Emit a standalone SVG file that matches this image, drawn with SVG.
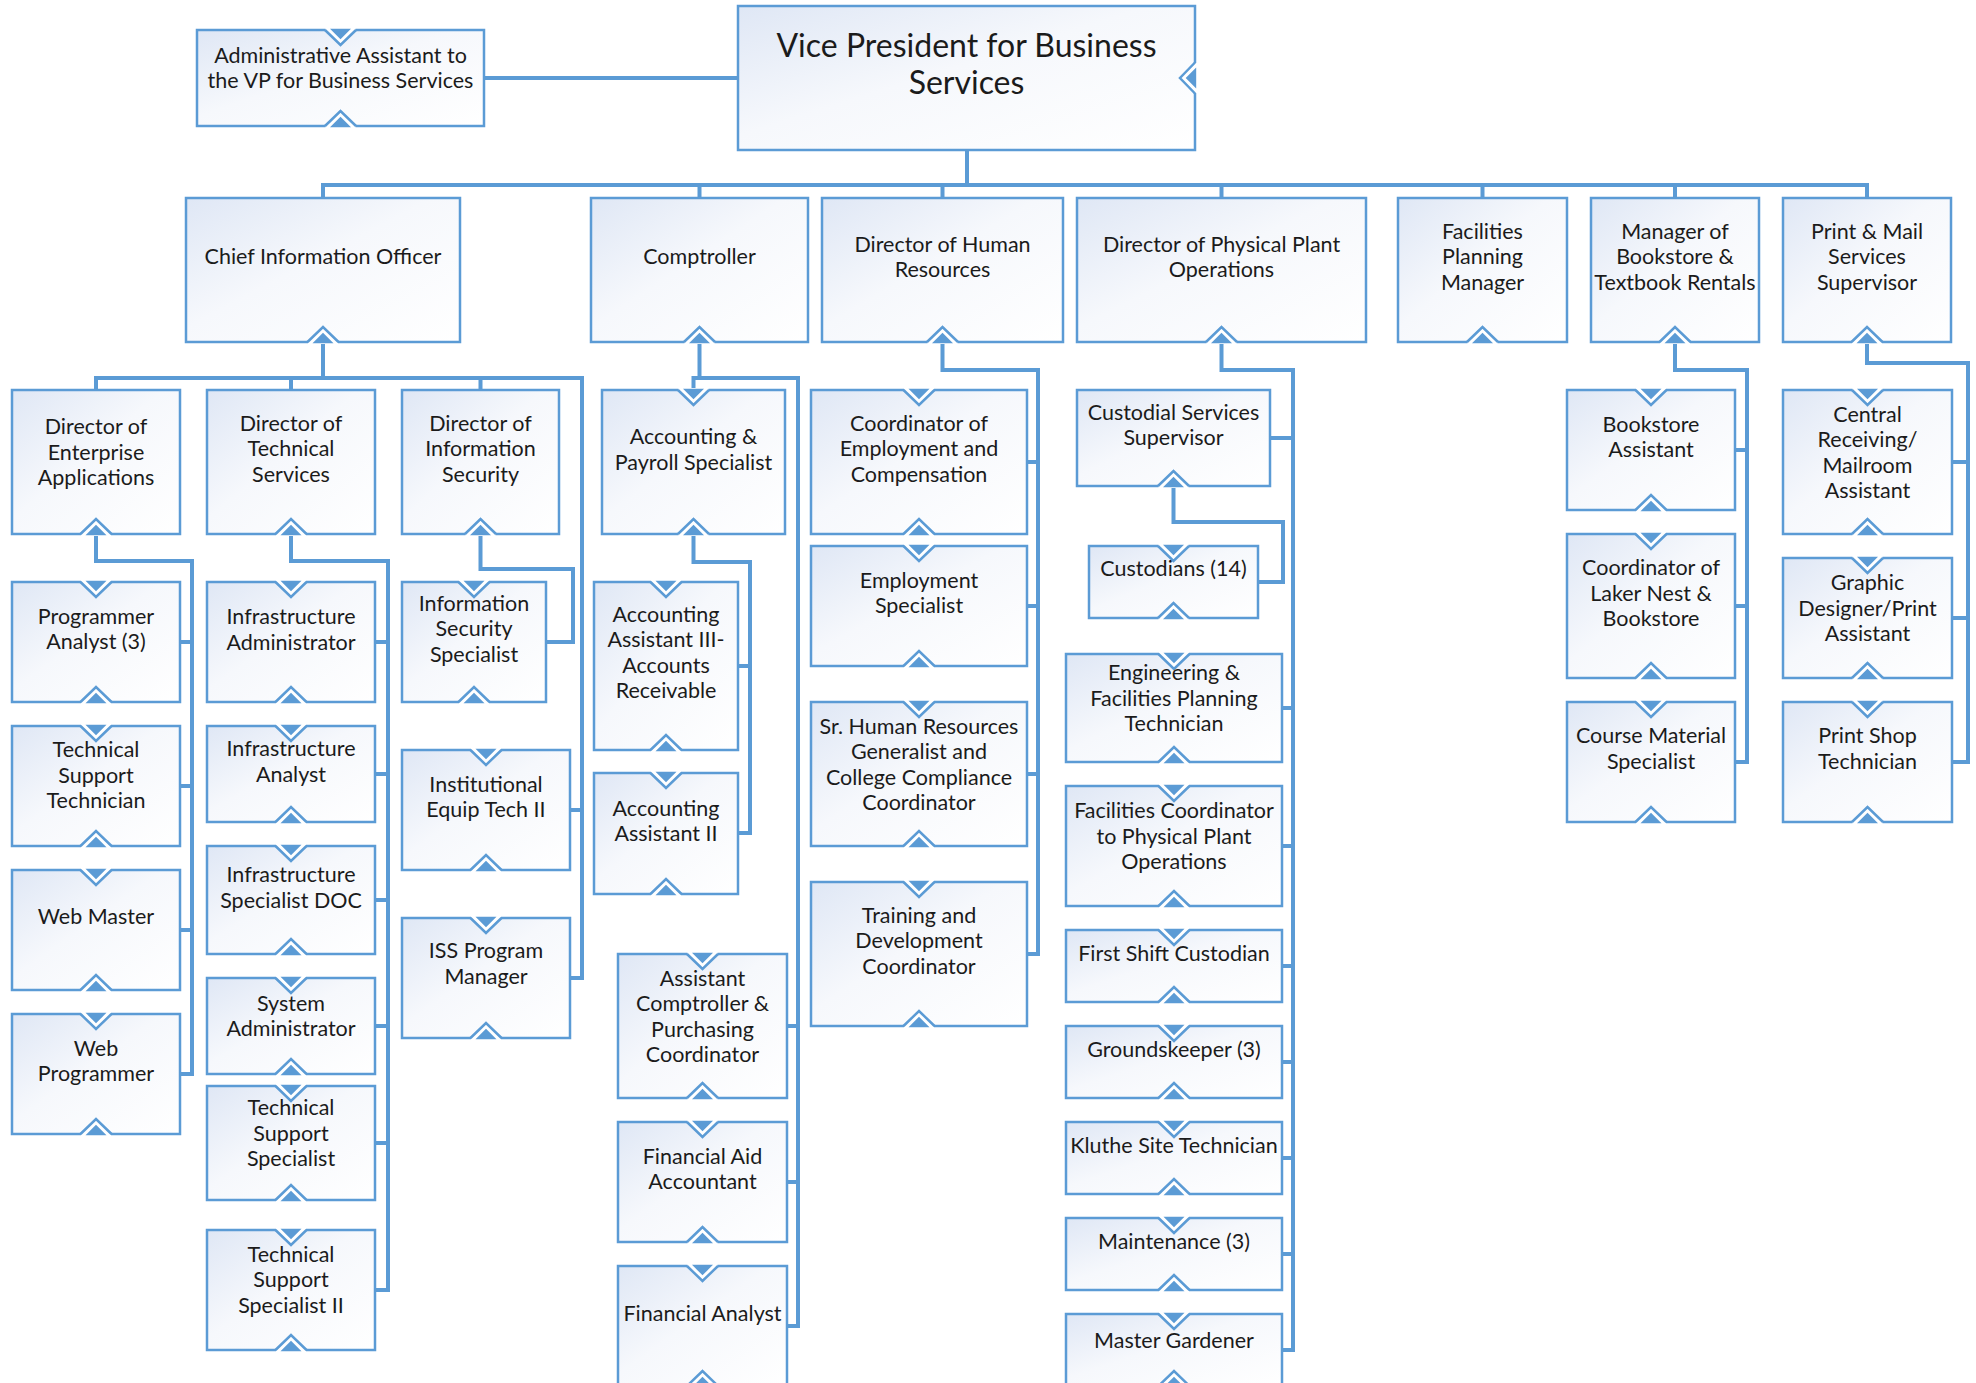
<svg xmlns="http://www.w3.org/2000/svg" xmlns:xlink="http://www.w3.org/1999/xlink" width="1976" height="1383" viewBox="0 0 1976 1383">
  <style>
    .box{fill:url(#shade);stroke:#5b9bd5;stroke-width:2.5}
    .c{fill:none;stroke:#5b9bd5;stroke-width:4;stroke-linejoin:miter;stroke-linecap:butt}
    .nl{fill:none;stroke:#5b9bd5;stroke-width:2.5}
    .nf{fill:#5b9bd5}
    .nw{fill:#ffffff}
    .t{font-family:Lato,"Noto Sans",sans-serif;font-size:21.5px;fill:#1b1b1b;text-anchor:middle}
    .tv{font-size:32px}
  </style>
  <defs>
    <linearGradient id="shade" x1="0" y1="0" x2="1" y2="1">
      <stop offset="0" stop-color="#dfe7f5"/>
      <stop offset="0.45" stop-color="#f6f8fc"/>
      <stop offset="1" stop-color="#ffffff"/>
    </linearGradient>
    <!-- notch on a top edge, pointing down into the box -->
    <g id="nt">
      <path class="nw" d="M-15 -2 H15 V0 L0 15 L-15 0 Z"/>
      <path class="nl" d="M-15.5 0 L0 15 L15.5 0"/>
      <path class="nf" d="M-10.5 -1.2 H10.5 L0 9.3 Z"/>
    </g>
    <!-- notch on a bottom edge, pointing up into the box -->
    <g id="nb">
      <path class="nw" d="M-15 2 H15 V0 L0 -15 L-15 0 Z"/>
      <path class="nl" d="M-15.5 0 L0 -15 L15.5 0"/>
      <path class="nf" d="M-10.5 1.2 H10.5 L0 -9.3 Z"/>
    </g>
  </defs>
  <rect width="1976" height="1383" fill="#ffffff"/>

  <g id="connectors">
    <path class="c" d="M484 78 H738"/>
    <path class="c" d="M967 150 V185"/>
    <path class="c" d="M323 198 V185 H1867 V198 M699.5 185 V198 M942.5 185 V198 M1221.5 185 V198 M1482.5 185 V198 M1675 185 V198"/>
    <!-- Chief Information Officer -->
    <path class="c" d="M323 342 V378 M96 390 V378 H582 V978 H570 M291 378 V390 M480.5 378 V390 M570 810 H582"/>
    <path class="c" d="M96 534 V561 H192 V1074 H180 M180 642 H192 M180 786 H192 M180 930 H192"/>
    <path class="c" d="M291 534 V561 H388 V1290 H375 M375 642 H388 M375 774 H388 M375 900 H388 M375 1026 H388 M375 1143 H388"/>
    <path class="c" d="M480.5 534 V569 H573 V642 H546"/>
    <!-- Comptroller -->
    <path class="c" d="M699.5 342 V378 M693.5 390 V378 H798 V1326 H787 M787 1026 H798 M787 1182 H798"/>
    <path class="c" d="M693.5 534 V562 H750 V833 H738 M738 666 H750"/>
    <!-- Human Resources -->
    <path class="c" d="M942.5 342 V370 H1038 V954 H1027 M1027 462 H1038 M1027 606 H1038 M1027 774 H1038"/>
    <!-- Physical Plant -->
    <path class="c" d="M1221.5 342 V370 H1293 V1350 H1282 M1270 438 H1293 M1282 708 H1293 M1282 846 H1293 M1282 966 H1293 M1282 1062 H1293 M1282 1158 H1293 M1282 1254 H1293"/>
    <path class="c" d="M1173.5 486 V522 H1283 V582 H1258"/>
    <!-- Bookstore -->
    <path class="c" d="M1675 342 V370 H1747 V762 H1735 M1735 450 H1747 M1735 606 H1747"/>
    <!-- Print & Mail -->
    <path class="c" d="M1867 342 V363 H1968 V762 H1952 M1952 462 H1968 M1952 618 H1968"/>
  </g>

  <g id="nodes">
    <g id="n-admin">
      <rect class="box" x="197" y="30" width="287" height="96"/>
      <use href="#nt" x="340.5" y="30"/><use href="#nb" x="340.5" y="126"/>
      <text class="t"><tspan x="340.5" y="63">Administrative Assistant to</tspan><tspan x="340.5" y="88">the VP for Business Services</tspan></text>
    </g>
    <g id="n-vp">
      <rect class="box" x="738" y="6" width="457" height="144"/>
      <use href="#nt" transform="translate(1195 78) rotate(90)"/>
      <text class="t tv"><tspan x="966.5" y="56.5">Vice President for Business</tspan><tspan x="966.5" y="94">Services</tspan></text>
    </g>

    <g id="n-cio">
      <rect class="box" x="186" y="198" width="274" height="144"/>
      <use href="#nb" x="323" y="342"/>
      <text class="t" x="323" y="263.5">Chief Information Officer</text>
    </g>
    <g id="n-comptroller">
      <rect class="box" x="591" y="198" width="217" height="144"/>
      <use href="#nb" x="699.5" y="342"/>
      <text class="t" x="699.5" y="263.5">Comptroller</text>
    </g>
    <g id="n-dhr">
      <rect class="box" x="822" y="198" width="241" height="144"/>
      <use href="#nb" x="942.5" y="342"/>
      <text class="t"><tspan x="942.5" y="251.5">Director of Human</tspan><tspan x="942.5" y="277">Resources</tspan></text>
    </g>
    <g id="n-dpp">
      <rect class="box" x="1077" y="198" width="289" height="144"/>
      <use href="#nb" x="1221.5" y="342"/>
      <text class="t"><tspan x="1221.5" y="251.5">Director of Physical Plant</tspan><tspan x="1221.5" y="277">Operations</tspan></text>
    </g>
    <g id="n-fpm">
      <rect class="box" x="1398" y="198" width="169" height="144"/>
      <use href="#nb" x="1482.5" y="342"/>
      <text class="t"><tspan x="1482.5" y="238.5">Facilities</tspan><tspan x="1482.5" y="264">Planning</tspan><tspan x="1482.5" y="289.5">Manager</tspan></text>
    </g>
    <g id="n-mbook">
      <rect class="box" x="1591" y="198" width="168" height="144"/>
      <use href="#nb" x="1675" y="342"/>
      <text class="t"><tspan x="1675" y="238.5">Manager of</tspan><tspan x="1675" y="264">Bookstore &amp;</tspan><tspan x="1675" y="289.5">Textbook Rentals</tspan></text>
    </g>
    <g id="n-pms">
      <rect class="box" x="1783" y="198" width="168" height="144"/>
      <use href="#nb" x="1867" y="342"/>
      <text class="t"><tspan x="1867" y="238.5">Print &amp; Mail</tspan><tspan x="1867" y="264">Services</tspan><tspan x="1867" y="289.5">Supervisor</tspan></text>
    </g>

    <g id="n-dea">
      <rect class="box" x="12" y="390" width="168" height="144"/>
      <use href="#nb" x="96" y="534"/>
      <text class="t"><tspan x="96" y="434">Director of</tspan><tspan x="96" y="459.5">Enterprise</tspan><tspan x="96" y="485">Applications</tspan></text>
    </g>
    <g id="n-dts">
      <rect class="box" x="207" y="390" width="168" height="144"/>
      <use href="#nb" x="291" y="534"/>
      <text class="t"><tspan x="291" y="430.5">Director of</tspan><tspan x="291" y="456">Technical</tspan><tspan x="291" y="481.5">Services</tspan></text>
    </g>
    <g id="n-dis">
      <rect class="box" x="402" y="390" width="157" height="144"/>
      <use href="#nb" x="480.5" y="534"/>
      <text class="t"><tspan x="480.5" y="430.5">Director of</tspan><tspan x="480.5" y="456">Information</tspan><tspan x="480.5" y="481.5">Security</tspan></text>
    </g>

    <g id="n-pa3">
      <rect class="box" x="12" y="582" width="168" height="120"/>
      <use href="#nt" x="96" y="582"/><use href="#nb" x="96" y="702"/>
      <text class="t"><tspan x="96" y="623.5">Programmer</tspan><tspan x="96" y="649">Analyst (3)</tspan></text>
    </g>
    <g id="n-tst">
      <rect class="box" x="12" y="726" width="168" height="120"/>
      <use href="#nt" x="96" y="726"/><use href="#nb" x="96" y="846"/>
      <text class="t"><tspan x="96" y="757">Technical</tspan><tspan x="96" y="782.5">Support</tspan><tspan x="96" y="808">Technician</tspan></text>
    </g>
    <g id="n-wm">
      <rect class="box" x="12" y="870" width="168" height="120"/>
      <use href="#nt" x="96" y="870"/><use href="#nb" x="96" y="990"/>
      <text class="t" x="96" y="924">Web Master</text>
    </g>
    <g id="n-wp">
      <rect class="box" x="12" y="1014" width="168" height="120"/>
      <use href="#nt" x="96" y="1014"/><use href="#nb" x="96" y="1134"/>
      <text class="t"><tspan x="96" y="1055.5">Web</tspan><tspan x="96" y="1081">Programmer</tspan></text>
    </g>

    <g id="n-ia">
      <rect class="box" x="207" y="582" width="168" height="120"/>
      <use href="#nt" x="291" y="582"/><use href="#nb" x="291" y="702"/>
      <text class="t"><tspan x="291" y="624">Infrastructure</tspan><tspan x="291" y="649.5">Administrator</tspan></text>
    </g>
    <g id="n-ian">
      <rect class="box" x="207" y="726" width="168" height="96"/>
      <use href="#nt" x="291" y="726"/><use href="#nb" x="291" y="822"/>
      <text class="t"><tspan x="291" y="756">Infrastructure</tspan><tspan x="291" y="781.5">Analyst</tspan></text>
    </g>
    <g id="n-isd">
      <rect class="box" x="207" y="846" width="168" height="108"/>
      <use href="#nt" x="291" y="846"/><use href="#nb" x="291" y="954"/>
      <text class="t"><tspan x="291" y="882">Infrastructure</tspan><tspan x="291" y="907.5">Specialist DOC</tspan></text>
    </g>
    <g id="n-sa">
      <rect class="box" x="207" y="978" width="168" height="96"/>
      <use href="#nt" x="291" y="978"/><use href="#nb" x="291" y="1074"/>
      <text class="t"><tspan x="291" y="1010.5">System</tspan><tspan x="291" y="1036">Administrator</tspan></text>
    </g>
    <g id="n-tss">
      <rect class="box" x="207" y="1086" width="168" height="114"/>
      <use href="#nt" x="291" y="1086"/><use href="#nb" x="291" y="1200"/>
      <text class="t"><tspan x="291" y="1115">Technical</tspan><tspan x="291" y="1140.5">Support</tspan><tspan x="291" y="1166">Specialist</tspan></text>
    </g>
    <g id="n-tss2">
      <rect class="box" x="207" y="1230" width="168" height="120"/>
      <use href="#nt" x="291" y="1230"/><use href="#nb" x="291" y="1350"/>
      <text class="t"><tspan x="291" y="1261.5">Technical</tspan><tspan x="291" y="1287">Support</tspan><tspan x="291" y="1312.5">Specialist II</tspan></text>
    </g>

    <g id="n-iss">
      <rect class="box" x="402" y="582" width="144" height="120"/>
      <use href="#nt" x="474" y="582"/><use href="#nb" x="474" y="702"/>
      <text class="t"><tspan x="474" y="610.5">Information</tspan><tspan x="474" y="636">Security</tspan><tspan x="474" y="661.5">Specialist</tspan></text>
    </g>
    <g id="n-iet2">
      <rect class="box" x="402" y="750" width="168" height="120"/>
      <use href="#nt" x="486" y="750"/><use href="#nb" x="486" y="870"/>
      <text class="t"><tspan x="486" y="791.5">Institutional</tspan><tspan x="486" y="817">Equip Tech II</tspan></text>
    </g>
    <g id="n-isspm">
      <rect class="box" x="402" y="918" width="168" height="120"/>
      <use href="#nt" x="486" y="918"/><use href="#nb" x="486" y="1038"/>
      <text class="t"><tspan x="486" y="958">ISS Program</tspan><tspan x="486" y="983.5">Manager</tspan></text>
    </g>

    <g id="n-aps">
      <rect class="box" x="602" y="390" width="183" height="144"/>
      <use href="#nt" x="693.5" y="390"/><use href="#nb" x="693.5" y="534"/>
      <text class="t"><tspan x="693.5" y="444">Accounting &amp;</tspan><tspan x="693.5" y="469.5">Payroll Specialist</tspan></text>
    </g>
    <g id="n-aa3">
      <rect class="box" x="594" y="582" width="144" height="168"/>
      <use href="#nt" x="666" y="582"/><use href="#nb" x="666" y="750"/>
      <text class="t"><tspan x="666" y="621.5">Accounting</tspan><tspan x="666" y="647">Assistant III-</tspan><tspan x="666" y="672.5">Accounts</tspan><tspan x="666" y="698">Receivable</tspan></text>
    </g>
    <g id="n-aa2">
      <rect class="box" x="594" y="773" width="144" height="121"/>
      <use href="#nt" x="666" y="773"/><use href="#nb" x="666" y="894"/>
      <text class="t"><tspan x="666" y="815.5">Accounting</tspan><tspan x="666" y="841">Assistant II</tspan></text>
    </g>
    <g id="n-acpc">
      <rect class="box" x="618" y="954" width="169" height="144"/>
      <use href="#nt" x="702.5" y="954"/><use href="#nb" x="702.5" y="1098"/>
      <text class="t"><tspan x="702.5" y="985.5">Assistant</tspan><tspan x="702.5" y="1011">Comptroller &amp;</tspan><tspan x="702.5" y="1036.5">Purchasing</tspan><tspan x="702.5" y="1062">Coordinator</tspan></text>
    </g>
    <g id="n-faa">
      <rect class="box" x="618" y="1122" width="169" height="120"/>
      <use href="#nt" x="702.5" y="1122"/><use href="#nb" x="702.5" y="1242"/>
      <text class="t"><tspan x="702.5" y="1163.5">Financial Aid</tspan><tspan x="702.5" y="1189">Accountant</tspan></text>
    </g>
    <g id="n-fa">
      <rect class="box" x="618" y="1266" width="169" height="120"/>
      <use href="#nt" x="702.5" y="1266"/><use href="#nb" x="702.5" y="1386"/>
      <text class="t" x="702.5" y="1320.5">Financial Analyst</text>
    </g>

    <g id="n-cec">
      <rect class="box" x="811" y="390" width="216" height="144"/>
      <use href="#nt" x="919" y="390"/><use href="#nb" x="919" y="534"/>
      <text class="t"><tspan x="919" y="430.5">Coordinator of</tspan><tspan x="919" y="456">Employment and</tspan><tspan x="919" y="481.5">Compensation</tspan></text>
    </g>
    <g id="n-es">
      <rect class="box" x="811" y="546" width="216" height="120"/>
      <use href="#nt" x="919" y="546"/><use href="#nb" x="919" y="666"/>
      <text class="t"><tspan x="919" y="587.5">Employment</tspan><tspan x="919" y="613">Specialist</tspan></text>
    </g>
    <g id="n-srhr">
      <rect class="box" x="811" y="702" width="216" height="144"/>
      <use href="#nt" x="919" y="702"/><use href="#nb" x="919" y="846"/>
      <text class="t"><tspan x="919" y="733.5">Sr. Human Resources</tspan><tspan x="919" y="759">Generalist and</tspan><tspan x="919" y="784.5">College Compliance</tspan><tspan x="919" y="810">Coordinator</tspan></text>
    </g>
    <g id="n-tdc">
      <rect class="box" x="811" y="882" width="216" height="144"/>
      <use href="#nt" x="919" y="882"/><use href="#nb" x="919" y="1026"/>
      <text class="t"><tspan x="919" y="922.5">Training and</tspan><tspan x="919" y="948">Development</tspan><tspan x="919" y="973.5">Coordinator</tspan></text>
    </g>

    <g id="n-css">
      <rect class="box" x="1077" y="390" width="193" height="96"/>
      <use href="#nb" x="1173.5" y="486"/>
      <text class="t"><tspan x="1173.5" y="419.5">Custodial Services</tspan><tspan x="1173.5" y="445">Supervisor</tspan></text>
    </g>
    <g id="n-cust">
      <rect class="box" x="1089" y="546" width="169" height="72"/>
      <use href="#nt" x="1173.5" y="546"/><use href="#nb" x="1173.5" y="618"/>
      <text class="t" x="1173.5" y="576">Custodians (14)</text>
    </g>
    <g id="n-eng">
      <rect class="box" x="1066" y="654" width="216" height="108"/>
      <use href="#nt" x="1174" y="654"/><use href="#nb" x="1174" y="762"/>
      <text class="t"><tspan x="1174" y="680">Engineering &amp;</tspan><tspan x="1174" y="705.5">Facilities Planning</tspan><tspan x="1174" y="731">Technician</tspan></text>
    </g>
    <g id="n-fcpp">
      <rect class="box" x="1066" y="786" width="216" height="120"/>
      <use href="#nt" x="1174" y="786"/><use href="#nb" x="1174" y="906"/>
      <text class="t"><tspan x="1174" y="818">Facilities Coordinator</tspan><tspan x="1174" y="843.5">to Physical Plant</tspan><tspan x="1174" y="869">Operations</tspan></text>
    </g>
    <g id="n-fsc">
      <rect class="box" x="1066" y="930" width="216" height="72"/>
      <use href="#nt" x="1174" y="930"/><use href="#nb" x="1174" y="1002"/>
      <text class="t" x="1174" y="960.5">First Shift Custodian</text>
    </g>
    <g id="n-gk">
      <rect class="box" x="1066" y="1026" width="216" height="72"/>
      <use href="#nt" x="1174" y="1026"/><use href="#nb" x="1174" y="1098"/>
      <text class="t" x="1174" y="1056.5">Groundskeeper (3)</text>
    </g>
    <g id="n-kst">
      <rect class="box" x="1066" y="1122" width="216" height="72"/>
      <use href="#nt" x="1174" y="1122"/><use href="#nb" x="1174" y="1194"/>
      <text class="t" x="1174" y="1152.5">Kluthe Site Technician</text>
    </g>
    <g id="n-mnt">
      <rect class="box" x="1066" y="1218" width="216" height="72"/>
      <use href="#nt" x="1174" y="1218"/><use href="#nb" x="1174" y="1290"/>
      <text class="t" x="1174" y="1249">Maintenance (3)</text>
    </g>
    <g id="n-mg">
      <rect class="box" x="1066" y="1314" width="216" height="72"/>
      <use href="#nt" x="1174" y="1314"/><use href="#nb" x="1174" y="1386"/>
      <text class="t" x="1174" y="1347.5">Master Gardener</text>
    </g>

    <g id="n-ba">
      <rect class="box" x="1567" y="390" width="168" height="120"/>
      <use href="#nt" x="1651" y="390"/><use href="#nb" x="1651" y="510"/>
      <text class="t"><tspan x="1651" y="431.5">Bookstore</tspan><tspan x="1651" y="457">Assistant</tspan></text>
    </g>
    <g id="n-cln">
      <rect class="box" x="1567" y="534" width="168" height="144"/>
      <use href="#nt" x="1651" y="534"/><use href="#nb" x="1651" y="678"/>
      <text class="t"><tspan x="1651" y="575">Coordinator of</tspan><tspan x="1651" y="600.5">Laker Nest &amp;</tspan><tspan x="1651" y="626">Bookstore</tspan></text>
    </g>
    <g id="n-cms">
      <rect class="box" x="1567" y="702" width="168" height="120"/>
      <use href="#nt" x="1651" y="702"/><use href="#nb" x="1651" y="822"/>
      <text class="t"><tspan x="1651" y="743">Course Material</tspan><tspan x="1651" y="768.5">Specialist</tspan></text>
    </g>

    <g id="n-crm">
      <rect class="box" x="1783" y="390" width="169" height="144"/>
      <use href="#nt" x="1867.5" y="390"/><use href="#nb" x="1867.5" y="534"/>
      <text class="t"><tspan x="1867.5" y="421.5">Central</tspan><tspan x="1867.5" y="447">Receiving/</tspan><tspan x="1867.5" y="472.5">Mailroom</tspan><tspan x="1867.5" y="498">Assistant</tspan></text>
    </g>
    <g id="n-gdp">
      <rect class="box" x="1783" y="558" width="169" height="120"/>
      <use href="#nt" x="1867.5" y="558"/><use href="#nb" x="1867.5" y="678"/>
      <text class="t"><tspan x="1867.5" y="590">Graphic</tspan><tspan x="1867.5" y="615.5">Designer/Print</tspan><tspan x="1867.5" y="641">Assistant</tspan></text>
    </g>
    <g id="n-pst">
      <rect class="box" x="1783" y="702" width="169" height="120"/>
      <use href="#nt" x="1867.5" y="702"/><use href="#nb" x="1867.5" y="822"/>
      <text class="t"><tspan x="1867.5" y="743">Print Shop</tspan><tspan x="1867.5" y="768.5">Technician</tspan></text>
    </g>
  </g>
</svg>
